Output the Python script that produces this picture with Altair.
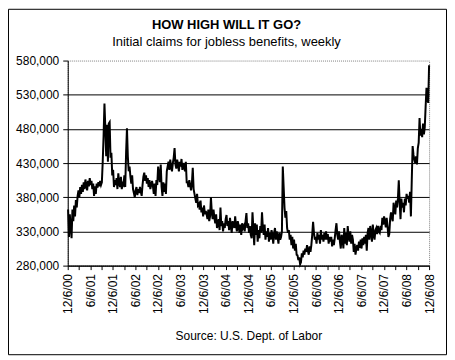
import altair as alt
import pandas as pd

TITLE = "HOW HIGH WILL IT GO?"
SUBTITLE = "Initial claims for jobless benefits, weekly"
SOURCE = "Source: U.S. Dept. of Labor"
FIRST_WEEK = "2000-12-09"          # week-ending Saturdays, weekly
FONT = "Liberation Sans"

# Initial jobless claims, thousands (seasonally adjusted)
claims_2000 = [362, 322, 355, 335]
claims_2001 = [320, 362, 345, 368, 352, 376, 365, 382, 390, 380, 395, 385, 398,
               388, 402, 392, 406, 398, 390, 404, 396, 408, 398, 404, 392, 400,
               382, 396, 385, 400, 394, 402, 396, 404, 398, 402, 432, 470, 517,
               482, 440, 486, 432, 488, 490, 438, 445, 412, 420, 395, 405, 398]
claims_2002 = [408, 392, 415, 400, 395, 410, 392, 400, 398, 412, 395, 445, 481,
               440, 418, 425, 410, 400, 412, 392, 386, 380, 390, 395, 383, 392,
               386, 395, 388, 382, 398, 410, 416, 404, 412, 400, 408, 395, 405,
               392, 398, 404, 396, 385, 400, 382, 405, 398, 425, 412, 402, 428]
claims_2003 = [395, 382, 402, 388, 400, 385, 418, 425, 432, 420, 435, 425, 418,
               430, 438, 452, 428, 422, 435, 428, 418, 432, 425, 436, 420, 430,
               425, 418, 432, 402, 402, 395, 405, 398, 390, 400, 423, 392, 385,
               378, 372, 385, 368, 370, 362, 375, 358, 365, 352, 368, 355, 360]
claims_2004 = [355, 348, 362, 345, 352, 380, 358, 348, 362, 350, 342, 355, 335,
               340, 348, 332, 365, 338, 345, 330, 342, 335, 348, 354, 338, 345,
               332, 350, 338, 328, 345, 340, 335, 352, 338, 330, 345, 338, 328,
               340, 325, 342, 335, 338, 330, 345, 357, 335, 342, 328, 338, 325]
claims_2005 = [320, 358, 335, 310, 342, 325, 340, 315, 332, 320, 338, 328, 358,
               335, 325, 340, 318, 330, 322, 335, 315, 328, 318, 332, 325, 312,
               328, 335, 318, 330, 322, 312, 328, 318, 322, 330, 425, 395, 365,
               350, 360, 335, 328, 332, 318, 325, 310, 322, 305, 318, 302, 312, 296]
claims_2006 = [295, 288, 292, 282, 285, 298, 292, 302, 296, 305, 300, 310, 302,
               296, 308, 300, 310, 325, 344, 328, 318, 322, 312, 328, 318, 325,
               312, 332, 318, 325, 315, 328, 318, 330, 318, 326, 312, 322, 315,
               322, 308, 318, 310, 320, 332, 342, 325, 318, 330, 315, 305, 325]
claims_2007 = [320, 305, 335, 312, 328, 310, 338, 322, 315, 330, 312, 325, 318,
               300, 312, 296, 305, 310, 302, 315, 306, 318, 305, 320, 310, 322,
               312, 325, 302, 328, 335, 318, 338, 328, 315, 340, 325, 318, 332,
               335, 326, 338, 330, 328, 338, 332, 350, 340, 352, 345, 336, 350]
claims_2008 = [338, 322, 326, 348, 358, 350, 345, 372, 362, 355, 375, 365, 378,
               405, 372, 348, 378, 365, 372, 358, 378, 368, 385, 378, 382, 372,
               388, 352, 405, 455, 442, 435, 430, 440, 428, 452, 460, 496, 470,
               480, 468, 488, 472, 482, 512, 540, 525, 518, 573]

Y_TICKS = [280000, 330000, 380000, 430000, 480000, 530000, 580000]
X_START = {"year": 2000, "month": 12, "date": 6}
X_END = {"year": 2008, "month": 12, "date": 6}

values = (claims_2000 + claims_2001 + claims_2002 + claims_2003 + claims_2004
          + claims_2005 + claims_2006 + claims_2007 + claims_2008)
weeks = pd.date_range(FIRST_WEEK, periods=len(values), freq="7D").strftime("%Y-%m-%d")
df = pd.DataFrame({"week": list(weeks), "claims": [v * 1000 for v in values]})

# quarterly tick marks (labels only every six months)
x_ticks = []
for yr in range(2000, 2009):
    for mo in (3, 6, 9, 12):
        if (yr, mo) >= (2000, 12) and (yr, mo) <= (2008, 12):
            x_ticks.append(alt.DateTime(year=yr, month=mo, date=6, utc=True))

x_axis = alt.Axis(
    values=x_ticks,
    labelExpr="utcmonth(datum.value) % 6 == 5 ? utcFormat(datum.value, '%-m/%-d/%y') : ''",
    labelAngle=-90, labelAlign="right", labelBaseline="middle",
    labelOverlap=False, labelFlush=False, labelPadding=4,
    labelFont=FONT, labelFontSize=12, labelColor="black",
    tickSize=4, tickColor="black", domainColor="black", grid=False, title="",
)
y_axis = alt.Axis(
    values=Y_TICKS, format=",d",
    labelFont=FONT, labelFontSize=12, labelColor="black", labelPadding=4,
    tickSize=5, tickColor="black", domainColor="black",
    grid=True, gridColor="black",
    gridOpacity={"condition": {"test": "datum.value >= 580000", "value": 0}, "value": 1},
    title="",
)

line = alt.Chart(df).mark_line(color="black", strokeWidth=2).encode(
    x=alt.X("week:T", axis=x_axis,
            scale=alt.Scale(type="utc", nice=False,
                            domain=[alt.DateTime(utc=True, **X_START),
                                    alt.DateTime(utc=True, **X_END)])),
    y=alt.Y("claims:Q", axis=y_axis,
            scale=alt.Scale(domain=[280000, 580000], nice=False, zero=False)),
)


def label(text, x, y, size, weight="normal"):
    return alt.Chart(pd.DataFrame({"t": [text]})).mark_text(
        font=FONT, fontSize=size, fontWeight=weight, color="black",
        align="center", baseline="alphabetic",
    ).encode(text="t:N", x=alt.value(x), y=alt.value(y))


border = alt.Chart(pd.DataFrame({"k": [0]})).mark_rect(
    fillOpacity=0, stroke="black", strokeWidth=1
).encode(x=alt.value(-59.5), x2=alt.value(380.5), y=alt.value(-51.5), y2=alt.value(295.5))

chart = alt.layer(
    line,
    label(TITLE, 159.5, -32, 13, "bold"),
    label(SUBTITLE, 159.5, -15, 13),
    label(SOURCE, 182, 280.5, 12),
    border,
).properties(
    width=363, height=206,
    autosize=alt.AutoSizeParams(type="none"),
    padding={"left": 60, "top": 52, "right": 18, "bottom": 90},
    background="white",
).configure_view(
    stroke="#808080", strokeDash=[1, 1], strokeWidth=1
)

chart.save("out.html", embed_options={"renderer": "svg", "actions": False})
